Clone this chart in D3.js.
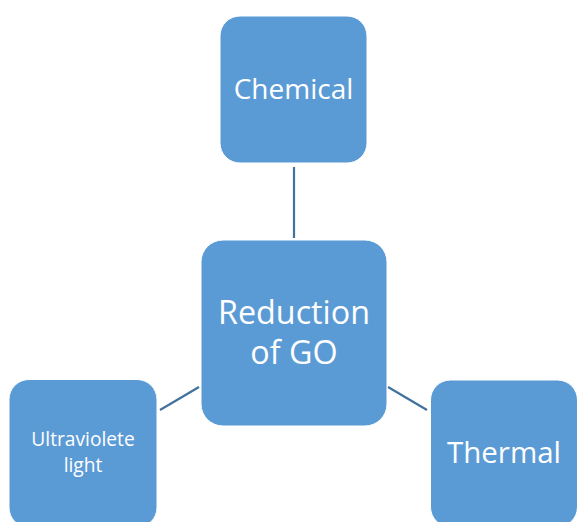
<!DOCTYPE html>
<html>
<head>
<meta charset="utf-8">
<script src="https://cdn.jsdelivr.net/npm/d3@7"></script>
<style>
  html, body { margin: 0; padding: 0; background: #fff; overflow: hidden; }
  svg { display: block; }
</style>
</head>
<body>
<svg id="chart" width="577" height="522"></svg>
<script>
// diagram content
const centerLabel = ['Reduction', 'of GO'];
const branchLabels = [
    ['Chemical'],
    ['Ultraviolete', 'light'],
    ['Thermal'],
];

// layout (pixels)
const W = 577, H = 522;
const center = {x: 294, y: 333, size: 186, r: 22, font: 32.3, lead: 40};
const branches = [
    {x: 293.5, y: 89.5, size: 147, r: 20, font: 28, lead: 0},
    {x: 83, y: 453.5, size: 148, r: 20, font: 19.2, lead: 26.5},
    {x: 504, y: 453.5, size: 147, r: 20, font: 29.5, lead: 0},
];
const links = [
    [[294, 167], [294, 238]],
    [[160, 410], [199, 387]],
    [[388, 387], [427, 410]],
];

const fill = '#5b9bd5', lineCol = '#41719c';
const fontFamily = '"Open Sans", "Noto Sans", sans-serif';

const svg = d3.select('#chart');

svg.append('g')
    .attr('stroke', lineCol).attr('stroke-width', 2.2)
    .selectAll('line').data(links).join('line')
    .attr('x1', d => d[0][0]).attr('y1', d => d[0][1])
    .attr('x2', d => d[1][0]).attr('y2', d => d[1][1]);

const boxes = [{lines: centerLabel, ...center}]
    .concat(branchLabels.map((lines, i) => ({lines, ...branches[i]})));

const g = svg.append('g').selectAll('g').data(boxes).join('g')
    .attr('transform', d => `translate(${d.x},${d.y})`);

g.append('rect')
    .attr('x', d => -d.size / 2).attr('y', d => -d.size / 2)
    .attr('width', d => d.size).attr('height', d => d.size)
    .attr('rx', d => d.r)
    .attr('fill', fill)
    .attr('stroke', '#fff').attr('stroke-width', 1);

// one text per box, lines as tspans
g.append('text')
    .attr('text-anchor', 'middle')
    .attr('fill', '#fff')
    .attr('font-family', fontFamily)
    .attr('font-size', d => d.font)
    .each(function(d) {
        const n = d.lines.length;
        d3.select(this).selectAll('tspan').data(d.lines).join('tspan')
            .attr('x', 0)
            .attr('dominant-baseline', 'central')
            .attr('y', (t, i) => (i - (n - 1) / 2) * d.lead - 2)
            .text(t => t);
    });
</script>
</body>
</html>
